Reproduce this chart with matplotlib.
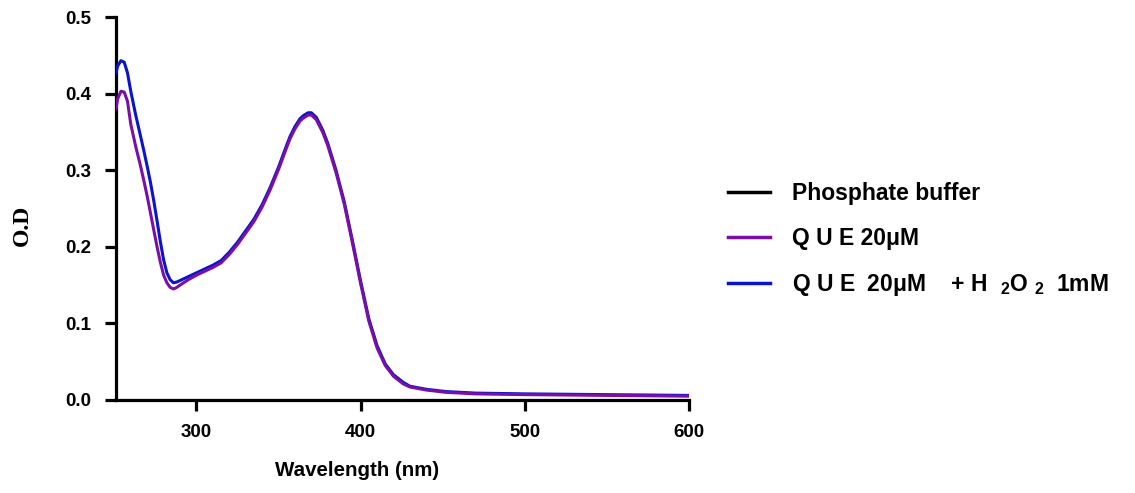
import matplotlib
matplotlib.use("Agg")
import matplotlib.pyplot as plt

plt.rcParams["font.family"] = ["Liberation Sans", "DejaVu Sans"]
plt.rcParams["font.weight"] = "bold"
plt.rcParams["mathtext.fontset"] = "custom"
plt.rcParams["mathtext.rm"] = "Liberation Sans:bold"
plt.rcParams["mathtext.it"] = "Liberation Sans:bold"
plt.rcParams["mathtext.bf"] = "Liberation Sans:bold"

# Absorbance spectra (wavelength in nm, optical density)
wl_buffer = [251, 300, 400, 500, 600]
od_buffer = [0.0, 0.0, 0.0, 0.0, 0.0]

wl_que = [251, 252, 254, 256, 258, 260, 263, 266, 268, 270, 272, 274, 276,
          278, 280, 282, 284, 286, 288, 290, 295, 300, 305, 310, 315, 320,
          325, 330, 335, 340, 345, 350, 355, 357, 360, 363, 365, 368, 370,
          373, 377, 380, 385, 390, 395, 400, 405, 410, 415, 420, 426, 430,
          440, 452, 470, 500, 550, 600]
od_que = [0.380, 0.393, 0.403, 0.402, 0.390, 0.360, 0.331, 0.305, 0.286,
          0.266, 0.244, 0.222, 0.200, 0.180, 0.163, 0.153, 0.147, 0.145,
          0.147, 0.150, 0.157, 0.163, 0.168, 0.173, 0.179, 0.190, 0.203,
          0.218, 0.233, 0.252, 0.275, 0.301, 0.330, 0.341, 0.354, 0.364,
          0.368, 0.372, 0.372, 0.366, 0.349, 0.332, 0.297, 0.256, 0.205,
          0.152, 0.103, 0.068, 0.045, 0.031, 0.021, 0.017, 0.013, 0.010,
          0.008, 0.007, 0.006, 0.005]

wl_que_h2o2 = [251, 252, 254, 256, 258, 260, 263, 266, 268, 270, 272, 274,
               276, 278, 280, 282, 284, 286, 288, 290, 295, 300, 305, 310,
               315, 320, 325, 330, 335, 340, 345, 350, 355, 357, 360, 363,
               365, 368, 370, 373, 377, 380, 385, 390, 395, 400, 405, 410,
               415, 420, 426, 430, 440, 452, 470, 500, 550, 600]
od_que_h2o2 = [0.427, 0.436, 0.443, 0.441, 0.427, 0.403, 0.372, 0.344,
               0.325, 0.305, 0.284, 0.260, 0.234, 0.207, 0.183, 0.166,
               0.157, 0.153, 0.154, 0.156, 0.161, 0.166, 0.171, 0.176,
               0.182, 0.193, 0.206, 0.221, 0.236, 0.255, 0.278, 0.304,
               0.333, 0.344, 0.357, 0.367, 0.371, 0.375, 0.375, 0.369,
               0.352, 0.335, 0.300, 0.259, 0.208, 0.155, 0.106, 0.071,
               0.047, 0.033, 0.023, 0.018, 0.014, 0.011, 0.009, 0.008,
               0.007, 0.006]

labels = ["Phosphate buffer", "Q U E 20μM",
          "Q U E  20μM    + H  $_2$O $_2$  1mM"]
colors = ["#000000", "#7A0FA8", "#0A14C8"]

x_ticks = [300, 400, 500, 600]
y_ticks = [0.0, 0.1, 0.2, 0.3, 0.4, 0.5]

fig = plt.figure(figsize=(11.35, 4.93), dpi=100)
ax = fig.add_axes([116 / 1135, 93 / 493, (689 - 116) / 1135, (400 - 17) / 493])

l0, = ax.plot(wl_buffer, od_buffer, color=colors[0], lw=2.2, zorder=2)
l2, = ax.plot(wl_que_h2o2, od_que_h2o2, color=colors[2], lw=2.2, zorder=3)
l1, = ax.plot(wl_que, od_que, color=colors[1], lw=2.2, zorder=4)

ax.set_xlim(251, 600)
ax.set_ylim(0, 0.5)
ax.set_xticks(x_ticks)
ax.set_yticks(y_ticks)
ax.set_yticklabels([f"{v:.1f}" for v in y_ticks])

for side in ("top", "right"):
    ax.spines[side].set_visible(False)
for side in ("left", "bottom"):
    ax.spines[side].set_linewidth(2.3)
ax.tick_params(axis="both", direction="out", length=8, width=2.3,
               labelsize=13.5, pad=9.5)
for lab in ax.get_xticklabels() + ax.get_yticklabels():
    lab.set_fontweight("bold")

fig.text(357 / 1135, 1 - 470 / 493, "Wavelength (nm)", ha="center",
         va="center", fontsize=14.8, fontweight="bold")
fig.text(22 / 1135, 1 - 225 / 493, "O.D", ha="center", va="center",
         rotation=90, fontsize=17, fontweight="bold",
         family=["Liberation Serif", "DejaVu Serif"])

leg = fig.legend([l0, l1, l2], labels, loc="center left",
                 bbox_to_anchor=(728 / 1135, 1 - 240 / 493),
                 frameon=False, fontsize=16.5, handlelength=1.83,
                 handletextpad=0.96, labelspacing=0.96, borderpad=0,
                 borderaxespad=0)
for t in leg.get_texts():
    t.set_fontweight("bold")
for h in leg.legend_handles:
    h.set_linewidth(2.5)

fig.savefig("out.png", dpi=100)
